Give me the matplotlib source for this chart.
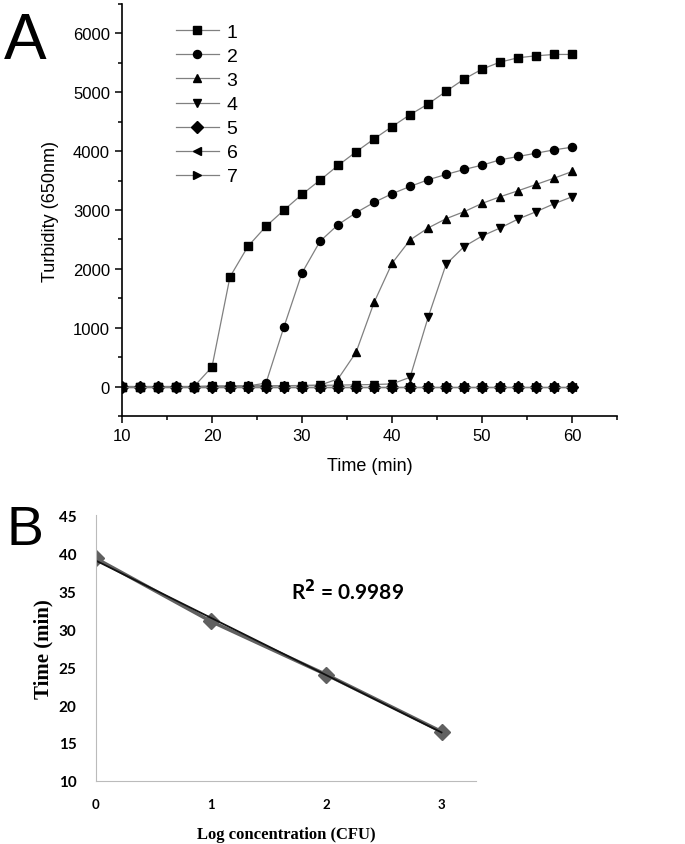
import numpy as np
import matplotlib
matplotlib.use("Agg")
import matplotlib.pyplot as plt
from matplotlib.ticker import MultipleLocator

# panel A: turbidity curves
time_min = [10, 12, 14, 16, 18, 20, 22, 24, 26, 28, 30, 32, 34, 36, 38, 40, 42, 44, 46, 48, 50, 52, 54, 56, 58, 60]
s1 = [0, 0, 0, 0, 0, 333, 1864, 2384, 2723, 3000, 3266, 3508, 3757, 3989, 4209, 4418, 4621, 4802, 5017, 5226, 5395, 5514, 5588, 5621, 5644, 5644]
s2 = [0, 0, 0, 0, 0, 5, 8, 10, 60, 1017, 1932, 2469, 2751, 2955, 3130, 3277, 3401, 3514, 3605, 3689, 3763, 3853, 3910, 3966, 4023, 4068]
s3 = [0, 0, 0, 0, 0, 5, 8, 10, 12, 15, 18, 25, 130, 582, 1429, 2096, 2492, 2695, 2853, 2972, 3113, 3226, 3328, 3435, 3542, 3655]
s4 = [0, 0, 0, 0, 0, 5, 8, 10, 12, 15, 18, 20, 25, 30, 35, 45, 158, 1175, 2079, 2379, 2559, 2695, 2847, 2972, 3107, 3226]
s5 = [0] * 26
s6 = [0] * 26
s7 = [0] * 26
series = [s1, s2, s3, s4, s5, s6, s7]
labels = ["1", "2", "3", "4", "5", "6", "7"]
markers = ["s", "o", "^", "v", "D", "<", ">"]

# panel B: calibration
log_conc = [0, 1, 2, 3]
t_pos = [39.3, 31.0, 24.0, 16.5]

plt.rcParams["font.family"] = ["Liberation Sans", "DejaVu Sans"]

fig = plt.figure(figsize=(6.85, 8.45), dpi=100)

# ---- A ----
ax = fig.add_axes([0.178, 0.5065, 0.723, 0.4875])
for y, lab, m in zip(series, labels, markers):
    ax.plot(time_min, y, color="#808080", lw=0.9, marker=m, markersize=5.8,
            markerfacecolor="black", markeredgecolor="black", label=lab)
ax.set_xlim(10, 65)
ax.set_ylim(-500, 6500)
ax.xaxis.set_major_locator(MultipleLocator(10))
ax.xaxis.set_minor_locator(MultipleLocator(5))
ax.yaxis.set_major_locator(MultipleLocator(1000))
ax.yaxis.set_minor_locator(MultipleLocator(500))
ax.set_xticks([10, 20, 30, 40, 50, 60])
ax.spines["top"].set_visible(False)
ax.spines["right"].set_visible(False)
for s in ["left", "bottom"]:
    ax.spines[s].set_linewidth(1.2)
ax.tick_params(which="both", direction="out", width=1.1, labelsize=12)
ax.tick_params(which="major", length=5)
ax.tick_params(which="minor", length=3)
ax.set_xlabel("Time (min)", fontsize=13, labelpad=10)
ax.set_ylabel("Turbidity (650nm)", fontsize=13, labelpad=10)
ax.legend(loc="upper left", bbox_to_anchor=(0.074, 0.995), frameon=False,
          fontsize=14, handlelength=2.2, handletextpad=0.4, labelspacing=0.33)
fig.text(0.005, 0.93, "A", fontsize=46)

# ---- B ----
bx = fig.add_axes([0.140, 0.0746, 0.555, 0.3146])
coef = np.polyfit(log_conc, t_pos, 1)
xs = np.array([0, 3])
bx.plot(log_conc, t_pos, color="#606060", lw=2.5, marker="D", markersize=8,
        markerfacecolor="#606060", markeredgecolor="#606060")
bx.plot(xs, np.polyval(coef, xs), color="#111111", lw=1.3)
bx.set_xlim(0, 3.3)
bx.set_ylim(10, 45)
bx.set_xticks([0, 1, 2, 3])
bx.set_yticks([10, 15, 20, 25, 30, 35, 40, 45])
bx.spines["top"].set_visible(False)
bx.spines["right"].set_visible(False)
bx.spines["left"].set_color("#bbbbbb")
bx.spines["bottom"].set_color("#bbbbbb")
bx.tick_params(length=0)
bx.tick_params(axis="x", pad=12)
bx.tick_params(axis="y", pad=14)
for t in bx.get_xticklabels():
    t.set_fontfamily("Lato")
    t.set_fontweight("bold")
    t.set_fontsize(9.5)
for t in bx.get_yticklabels():
    t.set_fontfamily("Lato")
    t.set_fontweight("bold")
    t.set_fontsize(11)
bx.set_xlabel("Log concentration (CFU)", fontsize=12, fontweight="bold",
              family="Liberation Serif", labelpad=12)
bx.set_ylabel("Time (min)", fontsize=15, fontweight="bold",
              family="Liberation Serif", labelpad=4)
bx.text(1.69, 35.0, "R$^{\\mathbf{2}}$ = 0.9989", fontsize=15, fontweight="bold",
        family="Lato", va="center")
fig.text(0.01, 0.355, "B", fontsize=40)

fig.savefig("out.png", dpi=100)
